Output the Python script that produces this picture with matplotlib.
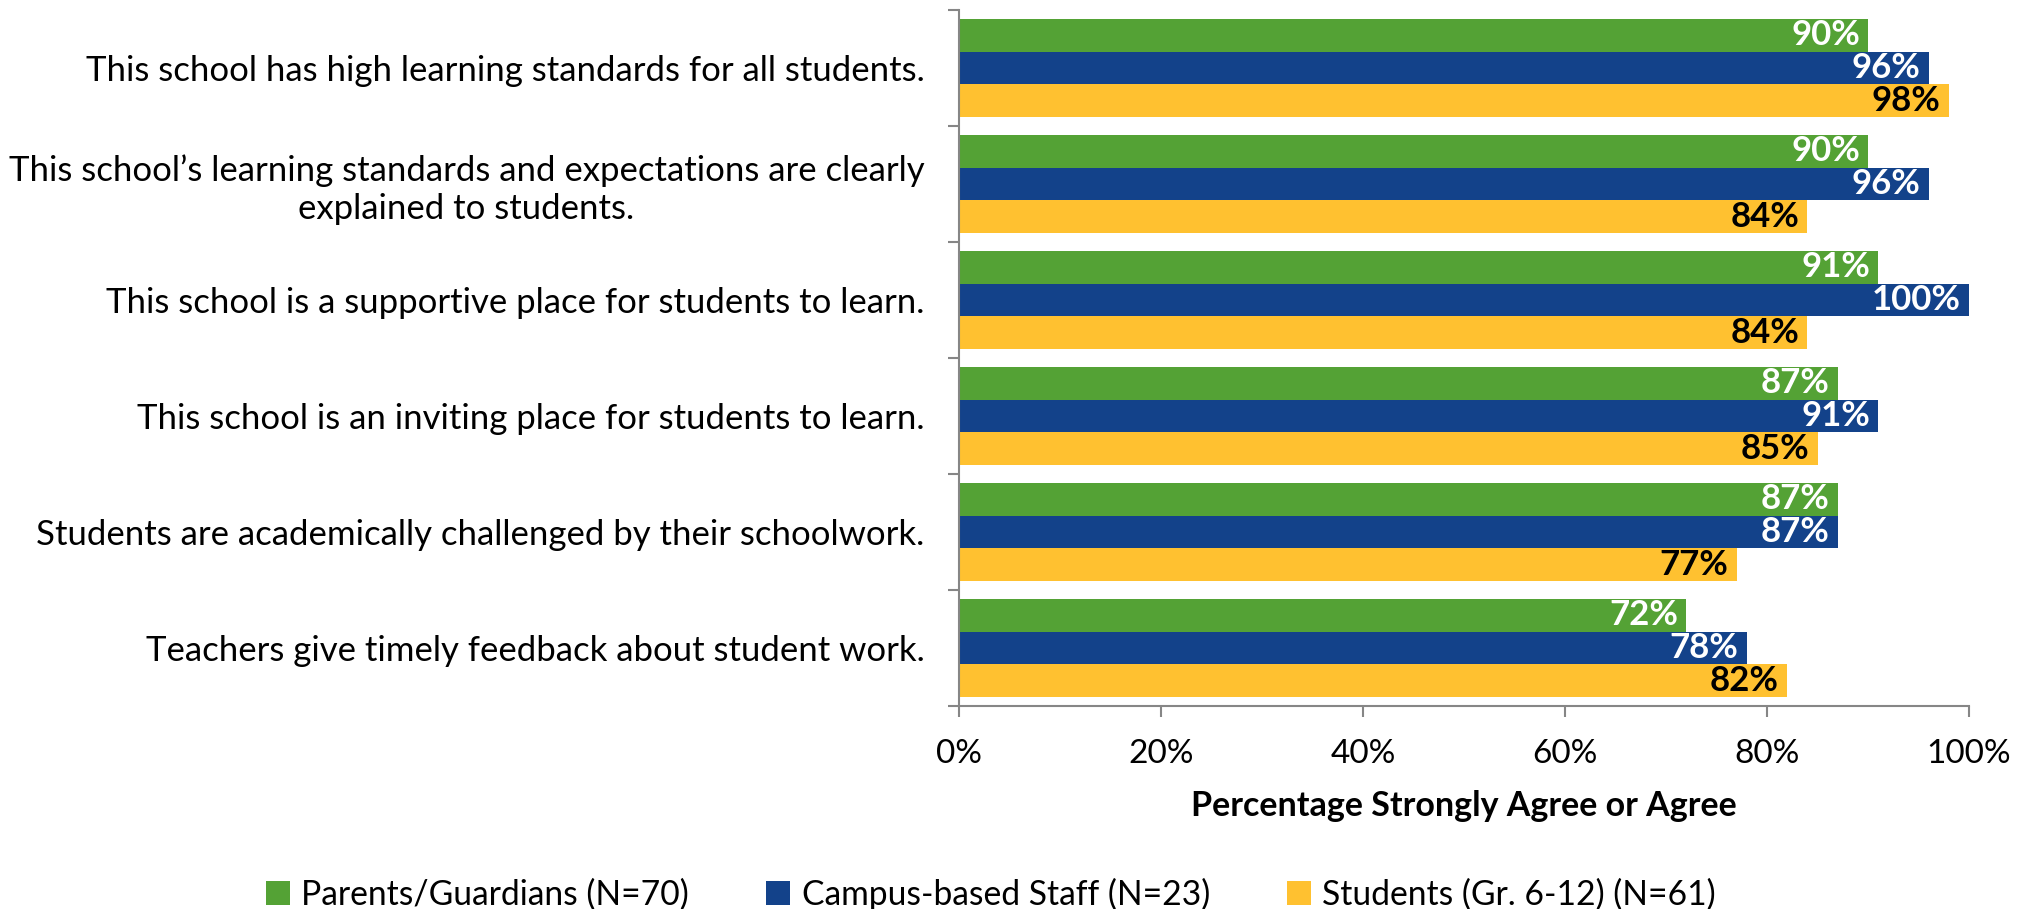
import matplotlib
matplotlib.use("Agg")
import matplotlib.pyplot as plt
import numpy as np
from matplotlib.ticker import PercentFormatter

categories = [
    "This school has high learning standards for all students.",
    "This school\u2019s learning standards and expectations are clearly\nexplained to students.",
    "This school is a supportive place for students to learn.",
    "This school is an inviting place for students to learn.",
    "Students are academically challenged by their schoolwork.",
    "Teachers give timely feedback about student work.",
]
series_names = ["Parents/Guardians (N=70)", "Campus-based Staff (N=23)", "Students (Gr. 6-12) (N=61)"]
parents = [90, 90, 91, 87, 87, 72]
staff = [96, 96, 100, 91, 87, 78]
students = [98, 84, 84, 85, 77, 82]
x_ticks = [0, 20, 40, 60, 80, 100]

colors = ["#54A235", "#13428A", "#FFC130"]
label_colors = ["white", "white", "black"]

plt.rcParams["font.family"] = ["Lato", "DejaVu Sans"]

fig = plt.figure(figsize=(20.30, 9.09), dpi=100)
ax = fig.add_axes([959/2030, 1 - 706/909, (1969-959)/2030, (706-10)/909])

n = len(categories)
bar_h = 0.283
y = np.arange(n)
allseries = [parents, staff, students]
for i, (vals, c, lc, name) in enumerate(zip(allseries, colors, label_colors, series_names)):
    pos = y + (i - 1) * bar_h
    bars = ax.barh(pos, vals, height=bar_h, color=c, label=name)
    for b, v in zip(bars, vals):
        ax.text(v - 0.8, b.get_y() + b.get_height()/2, f"{v}%", ha="right", va="center",
                color=lc, fontsize=25, fontweight="bold")

ax.set_ylim(n - 0.5, -0.5)
ax.set_xlim(0, 100)
ax.set_xticks(x_ticks)
ax.xaxis.set_major_formatter(PercentFormatter(decimals=0))
ax.set_yticks(np.arange(n + 1) - 0.5, minor=False)
ax.set_yticklabels([])
ax.set_yticks(y, minor=True)
ax.set_yticklabels(categories, minor=True, fontsize=25, ha="right", multialignment="center")
ax.tick_params(axis="y", which="minor", length=0, pad=25)
ax.tick_params(axis="y", which="major", length=8, color="#868686", width=1.5)
ax.tick_params(axis="x", length=8, color="#868686", width=1.5, labelsize=24, pad=16)
for s in ["top", "right"]:
    ax.spines[s].set_visible(False)
for s in ["left", "bottom"]:
    ax.spines[s].set_color("#868686")
    ax.spines[s].set_linewidth(1.5)

fig.text((959+1969)/2/2030, 1 - 806/909, "Percentage Strongly Agree or Agree", ha="center", va="center",
         fontsize=24.5, fontweight="bold")

handles, labels = ax.get_legend_handles_labels()
fig.legend(handles, labels, loc="center left", bbox_to_anchor=(266/2030, 1 - 894/909), ncol=3,
           frameon=False, fontsize=24.2, handlelength=0.7, handleheight=0.7, handletextpad=0.35,
           columnspacing=2.3, borderaxespad=0, borderpad=0)

fig.savefig("out.png", dpi=100)
